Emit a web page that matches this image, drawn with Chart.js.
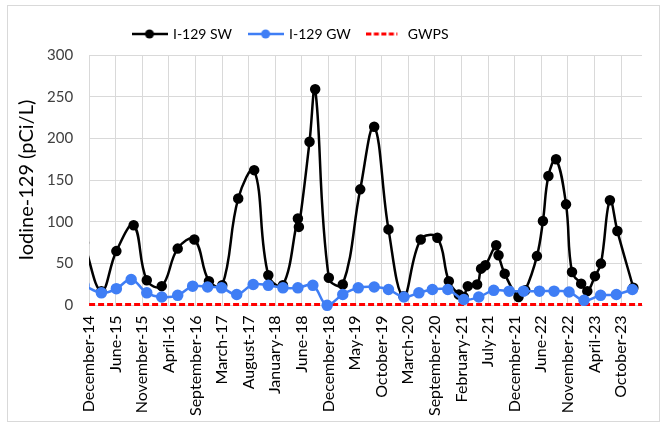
<!DOCTYPE html>
<html>
<head>
<meta charset="utf-8">
<script src="https://cdn.jsdelivr.net/npm/chart.js@4.4.1/dist/chart.umd.min.js"></script>
<style>
  html, body { margin: 0; padding: 0; background: #fff; }
</style>
</head>
<body>
<canvas id="iodineChart" width="667" height="427"></canvas>
<script>
// I-129 surface water results (first point sits just before the axis start)
const swDates = ['2014-11-26', '2015-03-11', '2015-06-09', '2015-09-21', '2015-12-09', '2016-03-08', '2016-06-12',
  '2016-09-20', '2016-12-17', '2017-03-07', '2017-06-11', '2017-09-15', '2017-12-09', '2018-03-07',
  '2018-06-05', '2018-06-11', '2018-08-14', '2018-09-17', '2018-12-08', '2019-03-02', '2019-06-15',
  '2019-09-07', '2019-12-02', '2020-03-01', '2020-06-13', '2020-09-21', '2020-11-29', '2021-01-28',
  '2021-02-27', '2021-03-23', '2021-05-18', '2021-06-11', '2021-07-07', '2021-09-10', '2021-09-24',
  '2021-10-31', '2022-01-22', '2022-03-04', '2022-05-13', '2022-06-18', '2022-07-21', '2022-09-05',
  '2022-11-04', '2022-12-10', '2023-02-03', '2023-03-12', '2023-04-27', '2023-06-02', '2023-07-26',
  '2023-09-09', '2023-12-14'];
const swValues = [75, 17, 65, 96, 30, 23, 68, 79, 29, 24, 128, 162, 36, 24,
  104, 94, 196, 259, 33, 25, 139, 214, 91, 11, 79, 81, 29, 13,
  10, 23, 25, 44, 48, 72, 60, 38, 10, 18, 59, 101, 155, 175,
  121, 40, 26, 17, 35, 50, 126, 89, 21];

// I-129 groundwater results
const gwDates = ['2014-11-26', '2015-03-11', '2015-06-09', '2015-09-06', '2015-12-09', '2016-03-08', '2016-06-12',
  '2016-09-10', '2016-12-09', '2017-03-03', '2017-06-02', '2017-09-09', '2017-12-09', '2018-03-07',
  '2018-06-05', '2018-09-03', '2018-11-28', '2019-03-02', '2019-06-03', '2019-09-07', '2019-12-02',
  '2020-03-04', '2020-06-02', '2020-08-22', '2020-11-23', '2021-02-27', '2021-05-28', '2021-08-26',
  '2021-11-27', '2022-02-21', '2022-05-28', '2022-08-24', '2022-11-22', '2023-02-20', '2023-05-31',
  '2023-09-03', '2023-12-08'];
const gwValues = [24, 15, 20, 31, 15, 10, 12, 23, 22, 21, 13, 25, 24, 21,
  21, 24, 0, 13, 21, 22, 19, 10, 15, 19, 19, 7, 10, 18,
  17, 17, 17, 17, 16, 6, 12, 13, 19];

const gwps = 1;

const tickLabels = ['December-14', 'June-15', 'November-15', 'April-16', 'September-16', 'March-17',
  'August-17', 'January-18', 'June-18', 'December-18', 'May-19', 'October-19', 'March-20',
  'September-20', 'February-21', 'July-21', 'December-21', 'June-22', 'November-22', 'April-23',
  'October-23'];

const axisStart = '2014-12-27';
const tickStepDays = 160;
const axisSpanDays = 3326;

const toDay = s => (Date.parse(s) - Date.parse(axisStart)) / 86400000;
const toPoints = (dates, vals) => dates.map((d, i) => ({ x: toDay(d), y: vals[i] }));

const FONT = 'Lato, "Open Sans", sans-serif';
const BLUE = '#3f7ef5';

function legendSymbol(color, dashed) {
  const c = document.createElement('canvas');
  c.width = 36; c.height = 12;
  const g = c.getContext('2d');
  g.strokeStyle = color;
  g.lineWidth = dashed ? 3 : 2.5;
  if (dashed) g.setLineDash([5, 2.5]);
  g.beginPath(); g.moveTo(0, 6); g.lineTo(dashed ? 31 : 36, 6); g.stroke();
  if (!dashed) {
    g.fillStyle = color;
    g.beginPath(); g.arc(18, 6, 4.5, 0, Math.PI * 2); g.fill();
  }
  return c;
}
const symbols = [legendSymbol('#000000'), legendSymbol(BLUE), legendSymbol('#ff0000', true)];

const frame = {
  id: 'frame',
  afterLayout(chart) {
    // legend sits left of centre, as in the original
    chart.legend.left = 116;
    chart.legend.top -= 4;
  },
  beforeDraw(chart) {
    const ctx = chart.ctx;
    ctx.save();
    ctx.fillStyle = '#fff';
    ctx.fillRect(0, 0, chart.width, chart.height);
    ctx.strokeStyle = '#d9d9d9';
    ctx.lineWidth = 1;
    ctx.strokeRect(7.5, 5.5, 652, 416);
    ctx.restore();
  }
};

const ctx = document.getElementById('iodineChart');
new Chart(ctx, {
  type: 'line',
  data: {
    datasets: [
      {
        label: 'I-129 SW',
        data: toPoints(swDates, swValues),
        borderColor: '#000000',
        backgroundColor: '#000000',
        borderWidth: 2.5,
        pointRadius: 4,
        pointHoverRadius: 4,
        tension: 0.4,
        order: 3,
        clip: { left: 0, top: false, right: false, bottom: false }
      },
      {
        label: 'I-129 GW',
        data: toPoints(gwDates, gwValues),
        borderColor: BLUE,
        backgroundColor: BLUE,
        borderWidth: 2.5,
        pointRadius: 4.5,
        pointHoverRadius: 4.5,
        tension: 0.4,
        order: 2,
        clip: { left: 0, top: false, right: false, bottom: false }
      },
      {
        label: 'GWPS',
        data: [{ x: 0, y: gwps }, { x: axisSpanDays, y: gwps }],
        borderColor: '#ff0000',
        borderWidth: 3,
        borderDash: [6, 3],
        pointRadius: 0,
        order: 4,
        clip: false
      }
    ]
  },
  options: {
    responsive: false,
    animation: false,
    layout: { padding: { left: 17, right: 25, top: 14, bottom: 7 } },
    plugins: {
      tooltip: { enabled: false },
      legend: {
        position: 'top',
        align: 'start',
        labels: {
          usePointStyle: true,
          pointStyleWidth: 33,
          boxHeight: 12,
          padding: 17,
          color: '#000',
          font: { family: FONT, size: 14 },
          generateLabels: chart => chart.data.datasets.map((ds, i) => ({
            text: ds.label,
            pointStyle: symbols[i],
            fillStyle: ds.borderColor,
            strokeStyle: ds.borderColor,
            lineWidth: 0,
            hidden: false,
            datasetIndex: i,
            fontColor: '#000'
          }))
        }
      }
    },
    scales: {
      x: {
        type: 'linear',
        min: 0,
        max: axisSpanDays,
        afterBuildTicks: axis => {
          axis.ticks = tickLabels.map((_, i) => ({ value: i * tickStepDays }));
        },
        ticks: {
          autoSkip: false,
          maxRotation: 90,
          minRotation: 90,
          padding: 4,
          color: '#000',
          font: { family: FONT, size: 16 },
          callback: (v, i) => tickLabels[i]
        },
        grid: { color: '#d9d9d9', lineWidth: 1, tickColor: 'rgba(0,0,0,0)', tickLength: 6 },
        border: { color: '#d9d9d9' }
      },
      y: {
        min: 0,
        max: 300,
        ticks: {
          stepSize: 50,
          padding: 10,
          color: '#404040',
          font: { family: FONT, size: 15 }
        },
        grid: { color: '#d9d9d9', lineWidth: 1, tickColor: 'rgba(0,0,0,0)', tickLength: 6 },
        border: { color: '#d9d9d9' },
        title: {
          display: true,
          text: 'Iodine-129 (pCi/L)',
          color: '#000',
          font: { family: FONT, size: 20, lineHeight: 1 },
          padding: { top: 0, bottom: 0 }
        }
      }
    }
  },
  plugins: [frame]
});
</script>
</body>
</html>
